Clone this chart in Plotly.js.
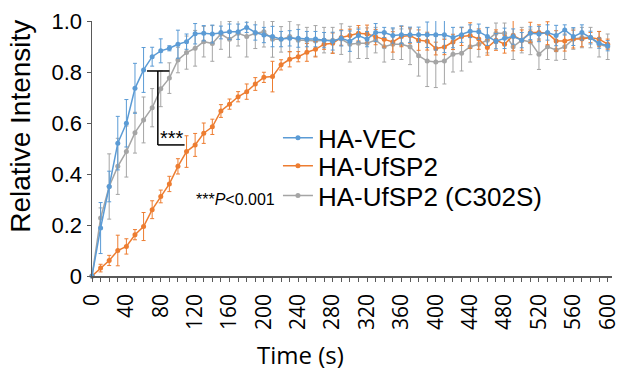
<!DOCTYPE html>
<html>
<head>
<meta charset="utf-8">
<script src="https://cdn.plot.ly/plotly-3.0.1.min.js"></script>
<style>html,body{margin:0;padding:0;background:#fff;}#chart{width:617px;height:374px;}</style>
</head>
<body>
<div id="chart"></div>
<script>
// Time points (s)
var time = [0,10,20,30,40,50,60,70,80,90,100,110,120,130,140,150,160,170,180,190,200,
  210,220,230,240,250,260,270,280,290,300,310,320,330,340,350,360,370,380,390,400,
  410,420,430,440,450,460,470,480,490,500,510,520,530,540,550,560,570,580,590,600];

var seriesNames = ["HA-VEC", "HA-UfSP2", "HA-UfSP2 (C302S)"];

var vecMean = [0,0.188,0.351,0.521,0.599,0.736,0.808,0.86,0.883,0.893,0.909,0.919,0.95,
  0.952,0.949,0.955,0.958,0.958,0.975,0.955,0.945,0.939,0.929,0.932,0.932,0.929,0.929,
  0.925,0.921,0.932,0.921,0.943,0.929,0.955,0.955,0.943,0.946,0.946,0.946,0.946,0.946,
  0.946,0.935,0.946,0.96,0.958,0.939,0.921,0.932,0.939,0.925,0.952,0.949,0.955,0.943,
  0.965,0.939,0.955,0.935,0.913,0.903];
var vecErr = [0,0.1,0.06,0.105,0.093,0.098,0.088,0.037,0.047,0.01,0.055,0.03,0.04,
  0.03,0.035,0.025,0.03,0.03,0.02,0.03,0.03,0.04,0.03,0.03,0.035,0.03,0.03,0.03,0.035,
  0.03,0.04,0.025,0.03,0.035,0.02,0.03,0.035,0.03,0.03,0.05,0.06,0.07,0.04,0.03,0.025,
  0.03,0.035,0.03,0.04,0.03,0.03,0.025,0.03,0.03,0.04,0.02,0.035,0.03,0.025,0.02,0.02];

var ufMean = [0,0.031,0.061,0.1,0.116,0.162,0.194,0.26,0.312,0.361,0.43,0.488,0.514,
  0.56,0.585,0.647,0.674,0.703,0.723,0.753,0.779,0.782,0.828,0.85,0.86,0.877,0.889,
  0.909,0.913,0.935,0.943,0.952,0.949,0.937,0.928,0.918,0.939,0.943,0.925,0.921,0.892,
  0.898,0.918,0.939,0.943,0.929,0.896,0.925,0.909,0.943,0.925,0.955,0.955,0.952,0.922,
  0.922,0.929,0.929,0.935,0.929,0.909];
var ufErr = [0,0.015,0.02,0.06,0.03,0.02,0.055,0.035,0.025,0.03,0.03,0.062,0.045,
  0.04,0.03,0.025,0.02,0.02,0.03,0.025,0.02,0.06,0.02,0.03,0.02,0.035,0.03,0.02,0.04,
  0.03,0.025,0.03,0.035,0.03,0.03,0.04,0.04,0.03,0.04,0.035,0.025,0.03,0.03,0.035,0.05,
  0.04,0.03,0.04,0.035,0.06,0.04,0.04,0.03,0.045,0.04,0.04,0.035,0.03,0.02,0.03,0.02];

var mutMean = [0,0.227,0.351,0.43,0.488,0.562,0.612,0.66,0.734,0.776,0.847,0.876,0.893,
  0.919,0.912,0.949,0.928,0.952,0.939,0.952,0.958,0.928,0.928,0.939,0.925,0.925,0.922,
  0.925,0.925,0.929,0.909,0.913,0.913,0.925,0.899,0.909,0.909,0.899,0.864,0.843,0.839,
  0.843,0.87,0.874,0.899,0.909,0.925,0.952,0.952,0.899,0.925,0.918,0.87,0.899,0.886,
  0.899,0.929,0.935,0.935,0.909,0.899];
var mutErr = [0,0.04,0.128,0.11,0.1,0.08,0.09,0.075,0.07,0.06,0.05,0.065,0.07,
  0.06,0.07,0.06,0.07,0.05,0.08,0.06,0.06,0.07,0.05,0.06,0.06,0.05,0.06,0.05,0.05,
  0.06,0.07,0.06,0.06,0.05,0.06,0.06,0.06,0.07,0.08,0.1,0.1,0.09,0.07,0.07,0.06,
  0.05,0.05,0.04,0.04,0.05,0.05,0.05,0.06,0.05,0.04,0.05,0.04,0.04,0.04,0.05,0.05];

var colors = ["#5B9BD5", "#ED7D31", "#A5A5A5"];

// significance bracket (data units)
var bracketTop = {x0: 64, x1: 90, y: 0.804};
var bracketStem = {x: 76.6, y0: 0.804, y1: 0.514};
var bracketBottom = {x0: 76.6, x1: 107.7, y: 0.514};

function mk(name, y, err, color, leg) {
  return {
    x: time, y: y, name: name, type: "scatter", mode: "lines+markers",
    line: {color: color, width: 1.5},
    marker: {color: color, size: 5},
    error_y: {type: "data", array: err, visible: true, color: color, thickness: 1, width: 2},
    cliponaxis: false,
    legend: leg
  };
}

var data = [
  mk(seriesNames[2], mutMean, mutErr, colors[2], "legend3"),
  mk(seriesNames[1], ufMean, ufErr, colors[1], "legend2"),
  mk(seriesNames[0], vecMean, vecErr, colors[0], "legend")
];

var legFont = {family: "Liberation Sans, Arial, sans-serif", size: 26, color: "#000"};
function legendAt(yp) {
  return {x: 0.3576, y: yp, xanchor: "left", yanchor: "middle", bgcolor: "rgba(0,0,0,0)",
    borderwidth: 0, font: legFont, itemwidth: 30};
}

var axisColor = "#595959";
var layout = {
  width: 617, height: 374,
  margin: {l: 92, r: 5, t: 21, b: 98},
  paper_bgcolor: "#fff", plot_bgcolor: "#fff",
  showlegend: true,
  legend: legendAt(0.542),
  legend2: legendAt(0.432),
  legend3: legendAt(0.315),
  xaxis: {
    range: [0, 605], showgrid: false, zeroline: false,
    showline: true, linecolor: axisColor, linewidth: 1.5,
    tickmode: "linear", tick0: 0, dtick: 40, tickangle: -90,
    ticks: "outside", ticklen: 4, tickcolor: axisColor, tickwidth: 1,
    minor: {dtick: 10, ticks: "outside", ticklen: 4, tickcolor: axisColor, tickwidth: 1},
    tickfont: {family: "Open Sans, sans-serif", size: 21, color: "#000"},
    ticklabelshift: 0,
    ticklabelstandoff: 4,
    ticklabeloverflow: "allow"
  },
  yaxis: {
    range: [0, 1], showgrid: false, zeroline: false,
    showline: true, linecolor: axisColor, linewidth: 1.5,
    tickvals: [0, 0.2, 0.4, 0.6, 0.8, 1.0],
    ticktext: ["0", "0.2", "0.4", "0.6", "0.8", "1.0"],
    ticks: "outside", ticklen: 4, tickcolor: axisColor,
    tickfont: {family: "Liberation Sans, Arial, sans-serif", size: 22, color: "#000"}
  },
  shapes: [
    {type: "line", xref: "x", yref: "y", x0: bracketTop.x0, x1: bracketTop.x1, y0: bracketTop.y, y1: bracketTop.y, line: {color: "#000", width: 1.5}},
    {type: "line", xref: "x", yref: "y", x0: bracketStem.x, x1: bracketStem.x, y0: bracketStem.y0, y1: bracketStem.y1, line: {color: "#000", width: 1.5}},
    {type: "line", xref: "x", yref: "y", x0: bracketBottom.x0, x1: bracketBottom.x1, y0: bracketBottom.y, y1: bracketBottom.y, line: {color: "#000", width: 1.5}}
  ],
  annotations: [
    {text: "Relative Intensity", xref: "paper", yref: "paper", x: -0.1365, y: 0.585,
     textangle: -90, showarrow: false, xanchor: "center", yanchor: "middle",
     font: {family: "Liberation Sans, Arial, sans-serif", size: 28, color: "#000"}},
    {text: "Time (s)", xref: "paper", yref: "paper", x: 0.4, y: -0.308,
     showarrow: false, xanchor: "center", yanchor: "middle",
     font: {family: "Open Sans, sans-serif", size: 24, color: "#000"}},
    {text: "***", xref: "x", yref: "y", x: 93, y: 0.54, showarrow: false,
     font: {family: "Liberation Sans, Arial, sans-serif", size: 20, color: "#000"}},
    {text: "***<i>P</i>&lt;0.001", xref: "x", yref: "y", x: 167.5, y: 0.30, showarrow: false,
     font: {family: "Liberation Sans, Arial, sans-serif", size: 16, color: "#000"}}
  ]
};

Plotly.newPlot("chart", data, layout, {staticPlot: true, displayModeBar: false});
</script>
</body>
</html>
